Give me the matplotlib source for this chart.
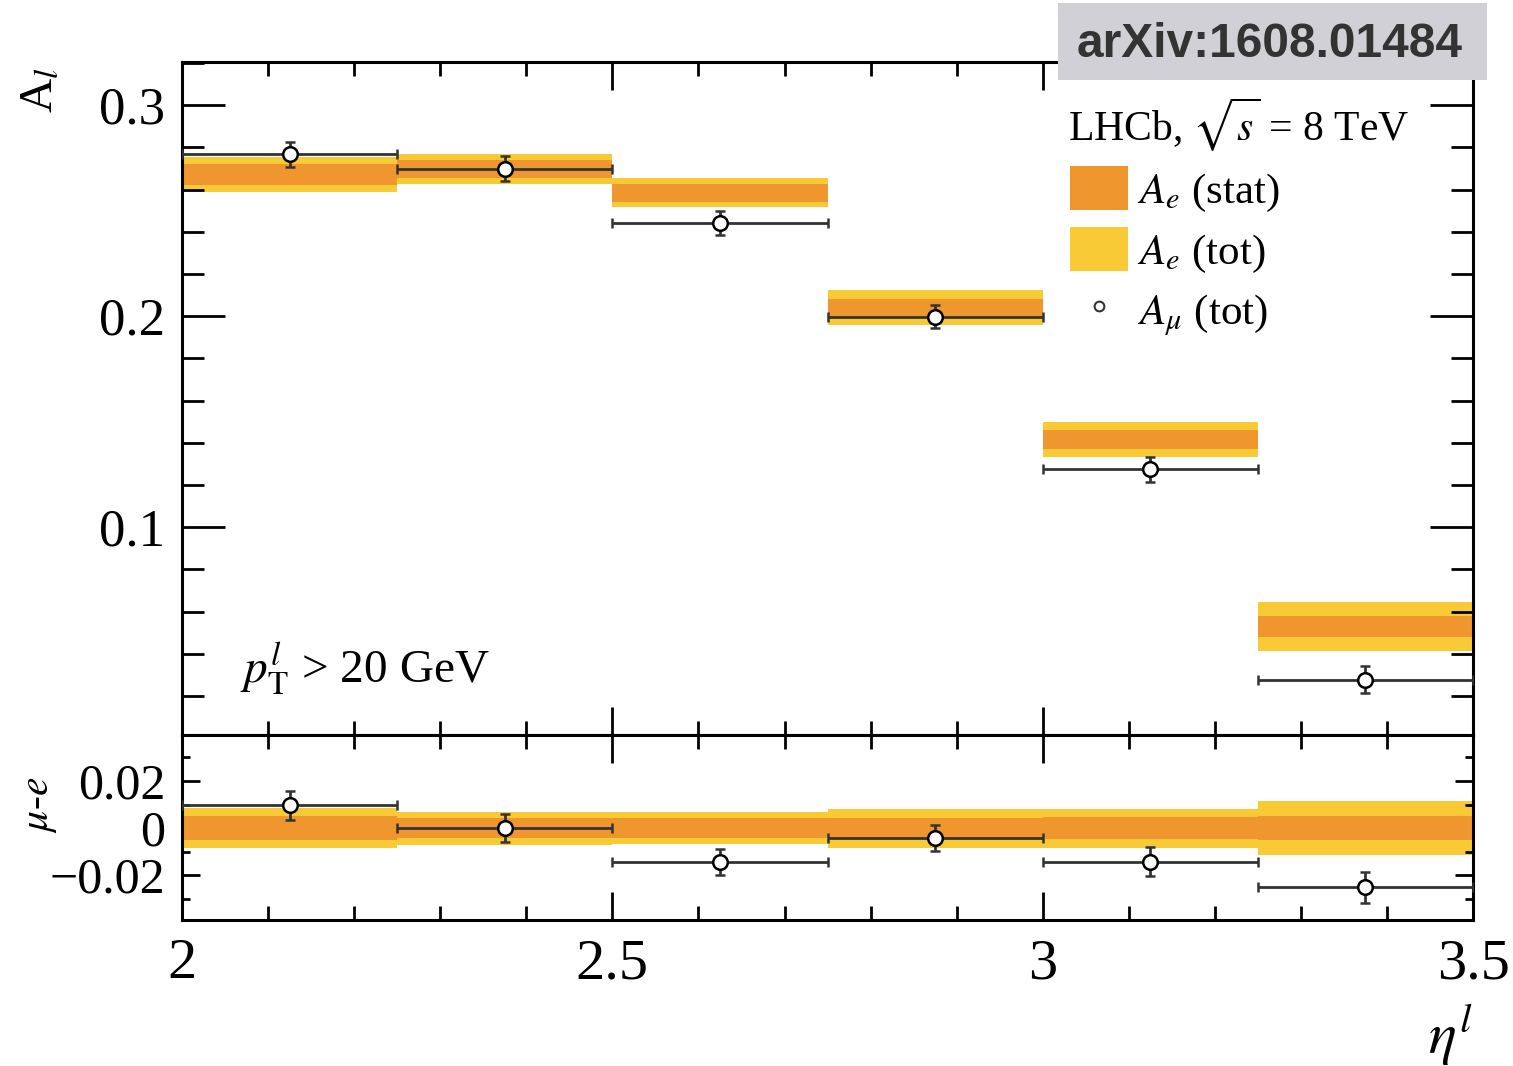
import matplotlib
matplotlib.use('Agg')
import numpy as np
import matplotlib.pyplot as plt
from matplotlib.patches import Patch, Rectangle
from matplotlib.lines import Line2D
from matplotlib.ticker import MultipleLocator, FuncFormatter

plt.rcParams['font.family'] = ['Liberation Serif', 'DejaVu Serif']
plt.rcParams['mathtext.fontset'] = 'stix'

# eta bins and lepton charge asymmetries
bin_edges = [2.0, 2.25, 2.5, 2.75, 3.0, 3.25, 3.5]
a_e = [0.2672, 0.2699, 0.2585, 0.2040, 0.1417, 0.0529]
a_e_stat = [0.0052, 0.0044, 0.0042, 0.0044, 0.0045, 0.0050]
a_e_tot = [0.0085, 0.0070, 0.0069, 0.0083, 0.0083, 0.0115]
a_mu = [0.2768, 0.2700, 0.2442, 0.1997, 0.1275, 0.0278]
a_mu_err = [0.0060, 0.0060, 0.0055, 0.0055, 0.0060, 0.0065]

ORANGE = '#f0962f'
YELLOW = '#f8ca35'

edges = np.array(bin_edges)
centers = 0.5 * (edges[1:] + edges[:-1])
widths = edges[1:] - edges[:-1]
a_e = np.array(a_e)
a_e_stat = np.array(a_e_stat)
a_e_tot = np.array(a_e_tot)
a_mu = np.array(a_mu)
a_mu_err = np.array(a_mu_err)
diff = a_mu - a_e

fig = plt.figure(figsize=(15.13, 10.66), dpi=100)
ax = fig.add_axes([0.1203, 0.3105, 0.8533, 0.6313])
axr = fig.add_axes([0.1203, 0.1370, 0.8533, 0.1735], sharex=ax)

err_kw = dict(fmt='o', ms=10.5, mfc='white', mec='black', mew=1.8,
              ecolor='#333333', elinewidth=2, capsize=3.5, capthick=2, zorder=3)

# top panel: electron bands + muon points
ax.bar(centers, 2 * a_e_tot, bottom=a_e - a_e_tot, width=widths,
       color=YELLOW, lw=0, zorder=1)
ax.bar(centers, 2 * a_e_stat, bottom=a_e - a_e_stat, width=widths,
       color=ORANGE, lw=0, zorder=2)
ax.errorbar(centers, a_mu, yerr=a_mu_err, xerr=widths / 2, **err_kw)

# ratio panel: mu - e
axr.bar(centers, 2 * a_e_tot, bottom=-a_e_tot, width=widths,
        color=YELLOW, lw=0, zorder=1)
axr.bar(centers, 2 * a_e_stat, bottom=-a_e_stat, width=widths,
        color=ORANGE, lw=0, zorder=2)
axr.errorbar(centers, diff, yerr=a_mu_err, xerr=widths / 2, **err_kw)

ax.set_xlim(2.0, 3.5)
ax.set_ylim(0.0015, 0.3205)
axr.set_ylim(-0.039, 0.0395)

for a in (ax, axr):
    a.tick_params(which='both', direction='in', top=True, right=True, width=2)
    for sp in a.spines.values():
        sp.set_linewidth(2.2)
    a.xaxis.set_major_locator(MultipleLocator(0.5))
    a.xaxis.set_minor_locator(MultipleLocator(0.1))
    a.tick_params(axis='x', which='major', length=20)
    a.tick_params(axis='x', which='minor', length=10)

ax.yaxis.set_major_locator(MultipleLocator(0.1))
ax.yaxis.set_minor_locator(MultipleLocator(0.02))
ax.tick_params(axis='y', which='major', length=31, labelsize=38, pad=12)
ax.tick_params(axis='y', which='minor', length=16)
ax.tick_params(axis='x', labelbottom=False)
ax.yaxis.set_major_formatter(FuncFormatter(lambda v, p: f'{v:.1f}'))

axr.yaxis.set_major_locator(MultipleLocator(0.02))
axr.yaxis.set_minor_locator(MultipleLocator(0.01))
axr.tick_params(axis='y', which='major', length=13, labelsize=36, pad=12)
axr.tick_params(axis='y', which='minor', length=6)
axr.tick_params(axis='x', which='major', labelsize=42, pad=13)
axr.yaxis.set_major_formatter(
    FuncFormatter(lambda v, p: '0' if abs(v) < 1e-9 else f'{v:g}'.replace('-', '\u2212')))
axr.xaxis.set_major_formatter(FuncFormatter(lambda v, p: f'{v:g}'))

# axis titles
fig.text(40 / 1513, 1 - 90 / 1066, r'A$_{l}$', rotation=90, fontsize=34,
         ha='center', va='center')
fig.text(40 / 1513, 1 - 805 / 1066, r'$\mu$-$e$', rotation=90, fontsize=30,
         ha='center', va='center')
fig.text(1450 / 1513, 1 - 1035 / 1066, r'$\eta^{l}$', fontsize=42,
         ha='center', va='center')

ax.text(0.045, 0.097, r'$p_{\mathrm{T}}^{l}$ > 20 GeV', transform=ax.transAxes,
        fontsize=34, ha='left', va='center')
ax.text(0.686, 0.906, r'LHCb, $\sqrt{s}$ = 8 TeV', transform=ax.transAxes,
        fontsize=30, ha='left', va='center')

handles = [Patch(fc=ORANGE, lw=0), Patch(fc=YELLOW, lw=0),
           Line2D([], [], marker='o', ls='none', ms=7, mfc='white',
                  mec='#333333', mew=1.5)]
labels = [r'$A_e$ (stat)', r'$A_e$ (tot)', r'$A_\mu$ (tot)']
ax.legend(handles, labels, loc='upper left', bbox_to_anchor=(0.688, 0.8455),
          frameon=False, fontsize=31, handlelength=1.33, handleheight=1.2,
          handletextpad=0.23, labelspacing=0.31, borderpad=0, borderaxespad=0)

# arXiv tag in the corner
fig.add_artist(Rectangle((1058 / 1513, 1 - 80 / 1066), 429 / 1513, 77 / 1066,
                         transform=fig.transFigure, fc='#d0d0d6', ec='none',
                         zorder=10))
fig.text(1270 / 1513, 1 - 44 / 1066, 'arXiv:1608.01484', fontsize=34.5,
         fontweight='bold', family='Liberation Sans', color='#333333',
         ha='center', va='center', zorder=11)

fig.savefig('out.png', dpi=100)
